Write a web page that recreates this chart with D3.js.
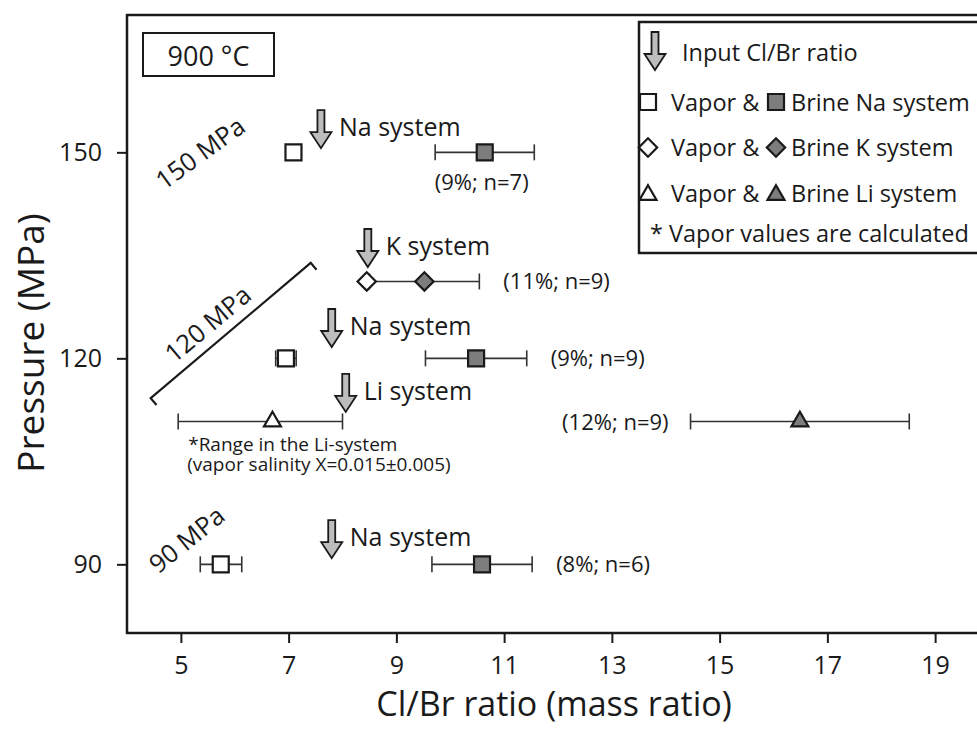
<!DOCTYPE html>
<html>
<head>
<meta charset="utf-8">
<script src="https://cdn.jsdelivr.net/npm/d3@7"></script>
<style>
  body { margin: 0; background: #fff; }
  text { font-family: 'Open Sans', sans-serif; fill: #1a1a1a; }
</style>
</head>
<body>
<svg id="chart" width="977" height="729"></svg>
<script>
// Cl/Br ratio of vapor and brine at 900 °C

const xTicks = [5, 7, 9, 11, 13, 15, 17, 19];
const yTicks = [90, 120, 150];

// vapor (open symbols), lo/hi = range
const vaporNa = [
    { p: 150, v: 7.09, lo: null, hi: null },
    { p: 120, v: 6.95, lo: 6.76, hi: 7.14 },
    { p: 90, v: 5.74, lo: 5.36, hi: 6.13 }
];
const vaporK = [{ p: 131.2, v: 8.45, lo: null, hi: null }];
const vaporLi = [{ p: 110.8, v: 6.70, lo: 4.95, hi: 8.0 }];

// brine (filled symbols), err = 1 sd
const brineNa = [
    { p: 150, v: 10.64, err: 0.92, label: '(9%; n=7)', pos: 'below' },
    { p: 120, v: 10.48, err: 0.94, label: '(9%; n=9)', pos: 'right' },
    { p: 90, v: 10.59, err: 0.93, label: '(8%; n=6)', pos: 'right' }
];
const brineK = [{ p: 131.2, v: 9.52, err: 1.02, label: '(11%; n=9)', pos: 'right' }];
const brineLi = [{ p: 110.8, v: 16.49, err: 2.03, label: '(12%; n=9)', pos: 'left' }];

// input Cl/Br ratio arrows (tip position)
const inputArrows = [
    { v: 7.60, p: 150.6, label: 'Na system' },
    { v: 8.47, p: 133.3, label: 'K system' },
    { v: 7.80, p: 121.65, label: 'Na system' },
    { v: 8.06, p: 112.2, label: 'Li system' },
    { v: 7.80, p: 90.9, label: 'Na system' }
];

const pressureLabels = [
    { text: '150 MPa', v: 5.35, p: 150.0, angle: -36 },
    { text: '120 MPa', v: 5.49, p: 125.1, angle: -40 },
    { text: '90 MPa', v: 5.10, p: 93.7, angle: -39 }
];
const bracket120 = { v1: 4.44, p1: 114.2, v2: 7.41, p2: 133.9 };

const liNotes = ['*Range in the Li-system', '(vapor salinity X=0.015\u00b10.005)'];

const legendRows = [
    { shape: 'square', label: 'Brine Na system' },
    { shape: 'diamond', label: 'Brine K system' },
    { shape: 'triangle', label: 'Brine Li system' }
];

// layout
const ink = '#1a1a1a';
const brineFill = '#7d7d7d';
const arrowFill = '#bdbdbd';

const svg = d3.select('#chart');

const x = d3.scaleLinear().domain([4, 20]).range([127, 989]);
const y = d3.scaleLinear().domain([80, 170]).range([633, 15]);

// frame
svg.append('rect')
    .attr('x', x(4)).attr('y', y(170))
    .attr('width', x(20) - x(4)).attr('height', y(80) - y(170))
    .attr('fill', 'none').attr('stroke', ink).attr('stroke-width', 2.5);

// axes
const xAxis = svg.append('g')
    .attr('transform', `translate(0,${y(80)})`)
    .call(d3.axisBottom(x).tickValues(xTicks).tickSize(10).tickPadding(13));
const yAxis = svg.append('g')
    .attr('transform', `translate(${x(4)},0)`)
    .call(d3.axisLeft(y).tickValues(yTicks).tickSize(10).tickPadding(15));

[xAxis, yAxis].forEach(a => {
    a.select('.domain').remove();
    a.selectAll('line').attr('stroke', ink).attr('stroke-width', 2);
    a.selectAll('text').attr('font-size', '25px').attr('fill', ink)
        .style('font-family', "'Open Sans', sans-serif");
});

svg.append('text')
    .attr('x', (x(4) + 983) / 2 - 1).attr('y', 716)
    .attr('text-anchor', 'middle').attr('font-size', '34px')
    .text('Cl/Br ratio (mass ratio)');

svg.append('text')
    .attr('transform', `translate(44,343) rotate(-90)`)
    .attr('text-anchor', 'middle').attr('font-size', '37px')
    .text('Pressure (MPa)');

// symbols
const symbolPath = {
    square: d3.symbol().type(d3.symbolSquare).size(16 * 16)(),
    diamond: d3.symbol().type(d3.symbolSquare).size(13 * 13)(),
    triangle: d3.symbol().type(d3.symbolTriangle).size(125)()
};
const symbolRotate = { square: 0, diamond: 45, triangle: 0 };

function drawBar(g, x1, x2, cy) {
    g.append('line').attr('x1', x1).attr('x2', x2).attr('y1', cy).attr('y2', cy)
        .attr('stroke', '#333').attr('stroke-width', 1.6);
    [x1, x2].forEach(cx => {
        g.append('line').attr('x1', cx).attr('x2', cx).attr('y1', cy - 8).attr('y2', cy + 8)
            .attr('stroke', '#333').attr('stroke-width', 1.6);
    });
}

function drawSymbol(g, shape, cx, cy, fill) {
    g.append('path')
        .attr('d', symbolPath[shape])
        .attr('transform', `translate(${cx},${cy}) rotate(${symbolRotate[shape]})`)
        .attr('fill', fill).attr('stroke', ink).attr('stroke-width', 2.2);
}

const marks = svg.append('g');

function drawBrine(data, shape) {
    data.forEach(d => {
        drawBar(marks, x(d.v - d.err), x(d.v + d.err), y(d.p));
        const t = marks.append('text').attr('font-size', '22px').text(d.label);
        if (d.pos === 'below') {
            t.attr('x', x(d.v) - 3).attr('y', y(d.p) + 38).attr('text-anchor', 'middle');
        } else if (d.pos === 'right') {
            t.attr('x', x(d.v + d.err) + 24).attr('y', y(d.p) + 8);
        } else {
            t.attr('x', x(d.v - d.err) - 22).attr('y', y(d.p) + 8).attr('text-anchor', 'end');
        }
    });
    data.forEach(d => drawSymbol(marks, shape, x(d.v), y(d.p), brineFill));
}

function drawVapor(data, shape) {
    data.forEach(d => {
        if (d.lo !== null) drawBar(marks, x(d.lo), x(d.hi), y(d.p));
    });
    data.forEach(d => drawSymbol(marks, shape, x(d.v), y(d.p), '#fff'));
}

drawBrine(brineNa, 'square');
drawBrine(brineK, 'diamond');
drawBrine(brineLi, 'triangle');
drawVapor(vaporNa, 'square');
drawVapor(vaporK, 'diamond');
drawVapor(vaporLi, 'triangle');

// input arrows
function arrowPath(cx, tip) {
    const sw = 3.5, hw = 10.5, hl = 16, len = 38;
    return `M${cx - sw},${tip - len}L${cx + sw},${tip - len}L${cx + sw},${tip - hl}` +
        `L${cx + hw},${tip - hl}L${cx},${tip}L${cx - hw},${tip - hl}L${cx - sw},${tip - hl}Z`;
}

inputArrows.forEach(d => {
    svg.append('path')
        .attr('d', arrowPath(x(d.v), y(d.p)))
        .attr('fill', arrowFill).attr('stroke', ink).attr('stroke-width', 1.8)
        .attr('stroke-linejoin', 'miter');
    svg.append('text')
        .attr('x', x(d.v) + 18).attr('y', y(d.p) - 12)
        .attr('font-size', '25px')
        .text(d.label);
});

// pressure annotations
pressureLabels.forEach(d => {
    svg.append('text')
        .attr('transform', `translate(${x(d.v)},${y(d.p)}) rotate(${d.angle})`)
        .attr('text-anchor', 'middle').attr('dominant-baseline', 'central')
        .attr('font-size', '25.5px')
        .text(d.text);
});

{
    const bx1 = x(bracket120.v1), by1 = y(bracket120.p1);
    const bx2 = x(bracket120.v2), by2 = y(bracket120.p2);
    const len = Math.hypot(bx2 - bx1, by2 - by1);
    const nx = -(by2 - by1) / len, ny = (bx2 - bx1) / len; // perpendicular, lower-right
    const cap = 9;
    svg.append('path')
        .attr('d', `M${bx1 + nx * cap},${by1 + ny * cap}L${bx1},${by1}L${bx2},${by2}L${bx2 + nx * cap},${by2 + ny * cap}`)
        .attr('fill', 'none').attr('stroke', ink).attr('stroke-width', 2.2);
}

// Li range note
liNotes.forEach((t, i) => {
    svg.append('text')
        .attr('x', x(vaporLi[0].lo) + 10 - i).attr('y', 451 + i * 20)
        .attr('font-size', '19px')
        .text(t);
});

// temperature box
svg.append('rect')
    .attr('x', 143).attr('y', 33).attr('width', 131).attr('height', 43)
    .attr('fill', '#fff').attr('stroke', ink).attr('stroke-width', 2);
svg.append('text')
    .attr('x', 208.5).attr('y', 55).attr('text-anchor', 'middle')
    .attr('dominant-baseline', 'central').attr('font-size', '27px')
    .text('900 \u00b0C');

// legend
const legend = svg.append('g');
legend.append('rect')
    .attr('x', 639).attr('y', 22).attr('width', 360).attr('height', 231)
    .attr('fill', '#fff').attr('stroke', ink).attr('stroke-width', 2.5);

legend.append('path')
    .attr('d', arrowPath(655, 70))
    .attr('fill', arrowFill).attr('stroke', ink).attr('stroke-width', 1.8);
legend.append('text')
    .attr('x', 682).attr('y', 61).attr('font-size', '23.5px')
    .text('Input Cl/Br ratio');

legendRows.forEach((r, i) => {
    const cy = 102 + i * 45.5;
    drawSymbol(legend, r.shape, 648, cy + (r.shape === 'triangle' ? 2 : 0), '#fff');
    legend.append('text').attr('x', 671).attr('y', cy + 8.5)
        .attr('font-size', '23.5px').text('Vapor &');
    drawSymbol(legend, r.shape, 776, cy + (r.shape === 'triangle' ? 2 : 0), brineFill);
    legend.append('text').attr('x', 791).attr('y', cy + 8.5)
        .attr('font-size', '23.5px').text(r.label);
});

legend.append('text')
    .attr('x', 650).attr('y', 242).attr('font-size', '23.5px')
    .text('* Vapor values are calculated');
</script>
</body>
</html>
